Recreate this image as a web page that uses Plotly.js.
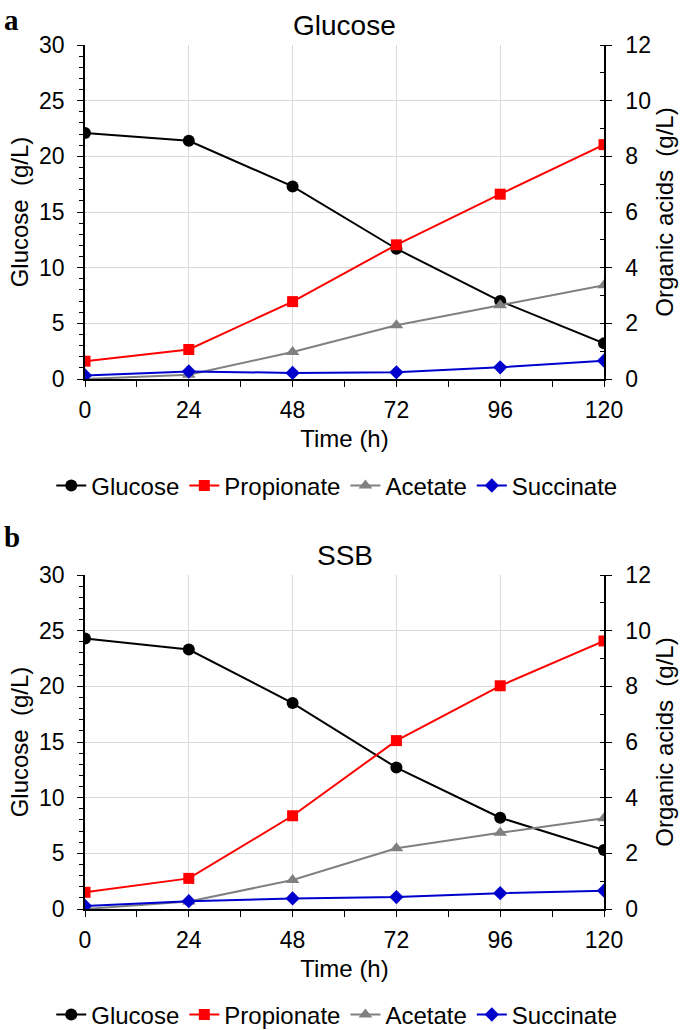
<!DOCTYPE html>
<html>
<head>
<meta charset="utf-8">
<script src="https://cdn.plot.ly/plotly-3.0.1.min.js"></script>
<style>body{margin:0} .panel{width:685px}</style>
</head>
<body>
<div id="panelA" class="panel" style="height:505px"></div>
<div id="panelB" class="panel" style="height:525px"></div>
<script>
var time = [0, 24, 48, 72, 96, 120];

// panel a: glucose medium
var glucoseA = [22.1, 21.4, 17.3, 11.7, 7.0, 3.2];
var propionateA = [0.64, 1.06, 2.78, 4.82, 6.64, 8.42];
var acetateA = [0.0, 0.15, 0.97, 1.93, 2.65, 3.37];
var succinateA = [0.13, 0.27, 0.22, 0.24, 0.42, 0.66];

// panel b: SSB
var glucoseB = [24.3, 23.3, 18.5, 12.7, 8.2, 5.3];
var propionateB = [0.6, 1.1, 3.35, 6.05, 8.02, 9.63];
var acetateB = [0.0, 0.27, 1.04, 2.18, 2.74, 3.26];
var succinateB = [0.11, 0.28, 0.38, 0.43, 0.57, 0.66];

var names = ["Glucose", "Propionate", "Acetate", "Succinate"];
var colors = ["#000000", "#ff0000", "#808080", "#0000cc"];
var symbols = ["circle", "square", "triangle-up", "diamond"];
var sizes = [12, 11, 12, 11];

var font = "Liberation Sans, Arial, sans-serif";

function series(i, y, ya) {
  return {
    x: time, y: y, name: names[i], type: "scatter", mode: "lines+markers", yaxis: ya,
    line: {color: colors[i], width: 2},
    marker: {color: colors[i], symbol: symbols[i], size: sizes[i]}
  };
}

function makeLayout(h, top, title, letter, letterShift, legendY) {
  return {
    width: 685, height: h,
    margin: {l: 85, r: 81, t: top, b: h - top - 334, autoexpand: false},
    font: {family: font, color: "#000"},
    plot_bgcolor: "#fff", paper_bgcolor: "#fff",
    xaxis: {
      range: [0, 120], tickvals: time, showline: true, linecolor: "#000", linewidth: 1.5,
      ticks: "outside", ticklen: 6, tickcolor: "#000", showgrid: true, gridcolor: "#d9d9d9",
      minor: {ticks: "outside", dtick: 12, tick0: 0, ticklen: 6, tickcolor: "#000"},
      zeroline: false, tickfont: {size: 23}, ticklabelstandoff: 4,
      title: {text: "Time (h)", font: {size: 24}, standoff: 8}
    },
    yaxis: {
      range: [0, 30], dtick: 5, showline: true, linecolor: "#000", linewidth: 1.5,
      ticks: "outside", ticklen: 6, tickcolor: "#000", showgrid: true, gridcolor: "#d9d9d9",
      minor: {ticks: "outside", dtick: 1, ticklen: 4, tickcolor: "#000"},
      zeroline: false, tickfont: {size: 23}, ticklabelstandoff: 8,
      title: {text: "Glucose  (g/L)", font: {size: 24}, standoff: 4}
    },
    yaxis2: {
      overlaying: "y", side: "right", range: [0, 12], dtick: 2, showline: true, linecolor: "#000",
      linewidth: 1.5, ticks: "outside", ticklen: 6, tickcolor: "#000", showgrid: false,
      minor: {ticks: "inside", dtick: 1, ticklen: 4, tickcolor: "#000"},
      zeroline: false, tickfont: {size: 23}, ticklabelstandoff: 9,
      title: {text: "Organic acids  (g/L)", font: {size: 24}, standoff: 3}
    },
    legend: {
      orientation: "h", xanchor: "left", yanchor: "middle", x: -0.065, y: legendY,
      font: {size: 24}, bgcolor: "rgba(0,0,0,0)", tracegroupgap: 0
    },
    annotations: [
      {text: title, xref: "paper", yref: "paper", x: 0.5, y: 1, yanchor: "bottom", yshift: 2,
       showarrow: false, font: {size: 28}},
      {text: "<b>" + letter + "</b>", xref: "paper", yref: "paper", x: -0.16, y: 1, yanchor: "middle",
       yshift: letterShift, xanchor: "left", showarrow: false,
       font: {size: 29, family: "Liberation Serif, serif"}}
    ]
  };
}

var dataA = [
  series(0, glucoseA, "y"),
  series(1, propionateA, "y2"),
  series(2, acetateA, "y2"),
  series(3, succinateA, "y2")
];
var dataB = [
  series(0, glucoseB, "y"),
  series(1, propionateB, "y2"),
  series(2, acetateB, "y2"),
  series(3, succinateB, "y2")
];

Plotly.newPlot("panelA", dataA, makeLayout(505, 45, "Glucose", "a", 25, -0.32), {displayModeBar: false});
Plotly.newPlot("panelB", dataB, makeLayout(525, 70, "SSB", "b", 38, -0.317), {displayModeBar: false});
</script>
</body>
</html>
